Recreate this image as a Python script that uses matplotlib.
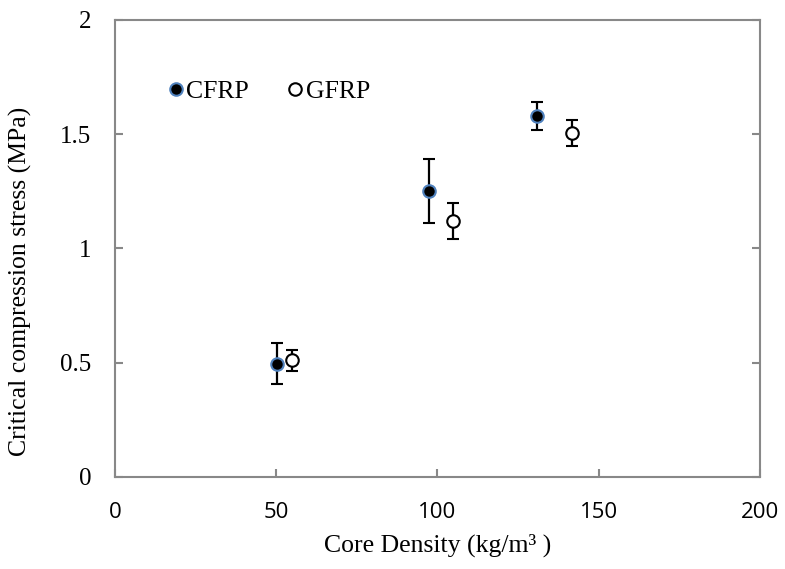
import matplotlib.pyplot as plt
from matplotlib.lines import Line2D

# core density (kg/m^3) and critical compression stress (MPa)
cfrp_density = [50.2, 97.4, 130.8]
cfrp_stress = [0.495, 1.25, 1.58]
cfrp_err = [0.09, 0.14, 0.062]

gfrp_density = [54.9, 104.8, 141.7]
gfrp_stress = [0.51, 1.12, 1.505]
gfrp_err = [0.045, 0.078, 0.055]

xticks = [0, 50, 100, 150, 200]
yticks = [0, 0.5, 1, 1.5, 2]
yticklabels = ["0", "0.5", "1", "1.5", "2"]

serif = "Liberation Serif"
grey = "#888888"
blue_edge = "#4F81BD"

fig = plt.figure(figsize=(7.85, 5.69), dpi=100)
ax = fig.add_axes([0.1465, 0.162, 0.8215, 0.803])

common = dict(fmt="o", color="black", ecolor="black", elinewidth=1.6,
              capsize=4.5, capthick=1.6, markersize=9, markeredgewidth=1.5, zorder=3)
ax.errorbar(cfrp_density, cfrp_stress, yerr=cfrp_err,
            markerfacecolor="black", markeredgecolor=blue_edge, **common)
ax.errorbar(gfrp_density, gfrp_stress, yerr=gfrp_err,
            markerfacecolor="white", markeredgecolor="black", **common)

ax.set_xlim(0, 200)
ax.set_ylim(0, 2)
ax.set_xticks(xticks)
ax.set_yticks(yticks)
ax.set_yticklabels(yticklabels, fontfamily=serif, fontsize=18)
for lbl in ax.get_xticklabels():
    lbl.set_fontfamily("Open Sans")
    lbl.set_fontsize(16)

for s in ax.spines.values():
    s.set_color(grey)
    s.set_linewidth(1.5)

ax.tick_params(axis="both", direction="in", length=6, width=1.5, color=grey)
ax.tick_params(axis="y", right=True, pad=17)
ax.tick_params(axis="x", pad=18)

ax.set_xlabel("Core Density (kg/m³ )", fontfamily=serif, fontsize=18.5, labelpad=8)
ax.set_ylabel("Critical compression stress (MPa)", fontfamily=serif, fontsize=18.5)
ax.yaxis.set_label_coords(-0.129, 0.427)

# legend handles without the error bars
handles = [
    Line2D([], [], marker="o", linestyle="none", markersize=9, markeredgewidth=1.5,
           markerfacecolor="black", markeredgecolor=blue_edge),
    Line2D([], [], marker="o", linestyle="none", markersize=9, markeredgewidth=1.5,
           markerfacecolor="white", markeredgecolor="black"),
]
ax.legend(handles, ["CFRP", "GFRP"], loc="center left", bbox_to_anchor=(0.082, 0.843),
          ncol=2, frameon=False, borderpad=0, borderaxespad=0,
          handlelength=0.6, handletextpad=0.12, columnspacing=1.48,
          prop={"family": serif, "size": 18.5})

fig.savefig("out.png", dpi=100)
